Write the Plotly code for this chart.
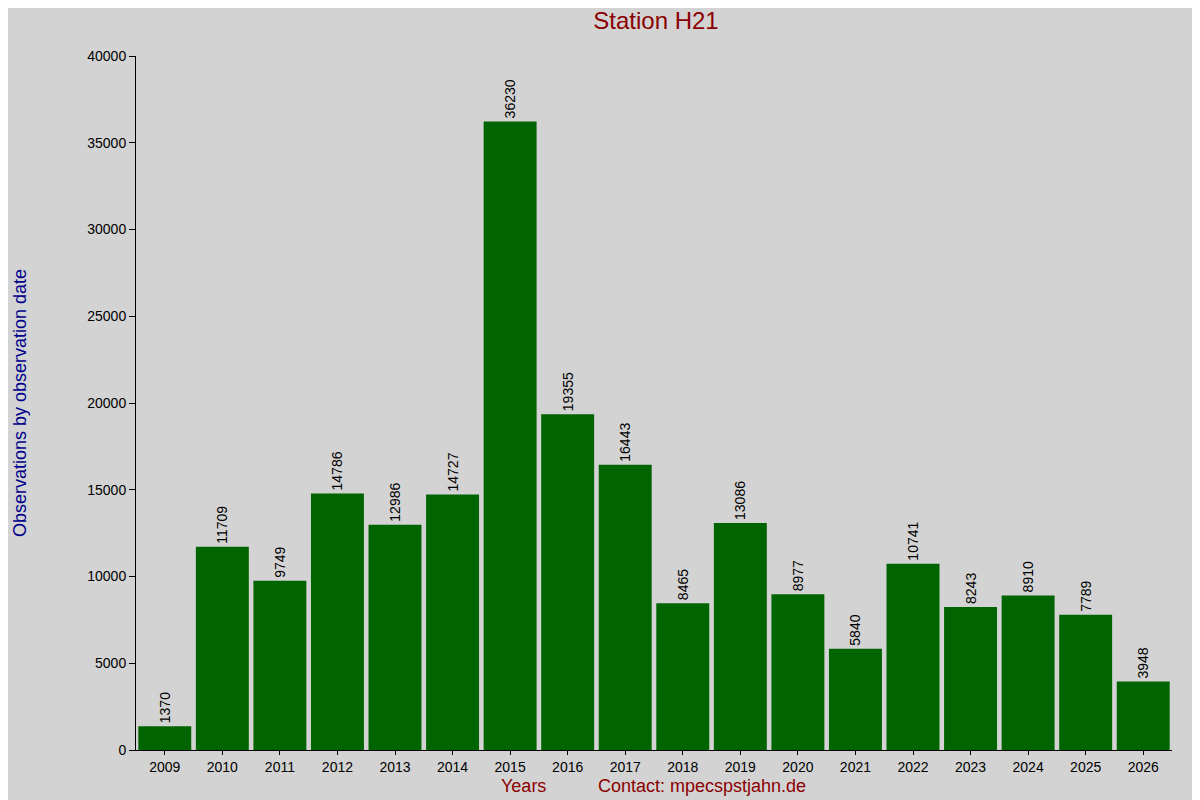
import plotly.graph_objects as go

years = [str(y) for y in range(2009, 2027)]
counts = [1370, 11709, 9749, 14786, 12986, 14727, 36230, 19355, 16443,
          8465, 13086, 8977, 5840, 10741, 8243, 8910, 7789, 3948]

fig = go.Figure(go.Bar(
    x=years, y=counts, marker_color="#006400", marker_line_width=0,
    text=[str(c) for c in counts], textposition="outside", textangle=-90,
    textfont=dict(size=14, color="black"), cliponaxis=False,
))

fig.update_layout(
    width=1200, height=800,
    paper_bgcolor="#d3d3d3", plot_bgcolor="#d3d3d3",
    margin=dict(l=118, r=36, t=48, b=58),
    bargap=0.08, showlegend=False,
    font=dict(family="Liberation Sans, Arial", size=14, color="black"),
    title=dict(text="Station H21", x=0.54, y=0.995, yanchor="top",
               font=dict(size=24, color="#8b0000")),
)
fig.update_xaxes(showline=True, linecolor="black", ticks="outside", ticklen=4,
                 tickcolor="black", showgrid=False)
fig.update_yaxes(range=[0, 40000], dtick=5000, tickformat="d", showline=True,
                 linecolor="black", ticks="outside", ticklen=6, tickcolor="black",
                 showgrid=False, zeroline=False, tickfont=dict(size=14),
                 title=dict(text="Observations by observation date",
                            font=dict(size=18, color="#00008b"), standoff=55))
ph = 800 - 48 - 58
for label, px in [("Years", 517), ("Contact: mpecspstjahn.de", 697)]:
    fig.add_annotation(text=label, xref="paper", yref="paper",
                       x=(px - 126) / 1046, y=-36 / ph, yanchor="middle",
                       showarrow=False, font=dict(size=18, color="#8b0000"))

fig.write_html("out.html")
